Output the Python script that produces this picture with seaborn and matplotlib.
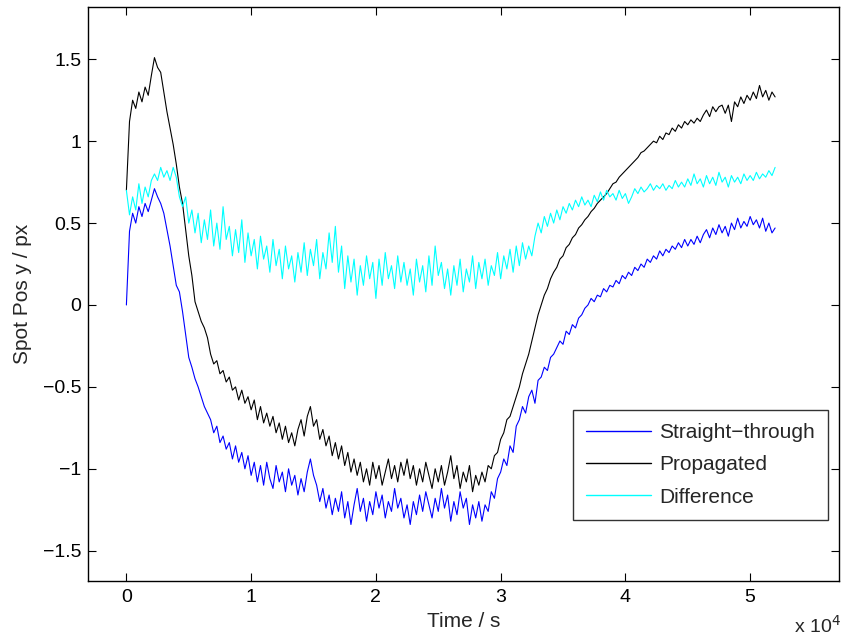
import numpy as np
import pandas as pd
import matplotlib
matplotlib.use("Agg")
import matplotlib.pyplot as plt
import seaborn as sns

# sample times (s), one value every 250 s from 0 to 52000 s
time_s = np.arange(0, 52001, 250)

straight_through = [
    0.00, 0.45, 0.56, 0.50, 0.60, 0.54, 0.62, 0.57, 0.64, 0.71,
    0.66, 0.62, 0.56, 0.46, 0.36, 0.24, 0.12, 0.08, -0.04, -0.18,
    -0.32, -0.38, -0.45, -0.50, -0.56, -0.62, -0.66, -0.70, -0.78, -0.74,
    -0.84, -0.80, -0.88, -0.84, -0.94, -0.86, -0.96, -0.90, -1.00, -0.92,
    -1.04, -0.96, -1.08, -0.98, -1.10, -0.96, -1.06, -1.12, -0.98, -1.08,
    -1.02, -1.14, -1.00, -1.10, -1.04, -1.16, -1.06, -1.14, -1.02, -0.94,
    -1.04, -1.10, -1.20, -1.12, -1.24, -1.16, -1.28, -1.18, -1.26, -1.14,
    -1.30, -1.20, -1.34, -1.22, -1.12, -1.26, -1.18, -1.32, -1.20, -1.28,
    -1.14, -1.24, -1.16, -1.30, -1.20, -1.26, -1.12, -1.24, -1.18, -1.30,
    -1.22, -1.34, -1.20, -1.28, -1.16, -1.26, -1.14, -1.22, -1.30, -1.18,
    -1.26, -1.12, -1.24, -1.16, -1.32, -1.20, -1.28, -1.14, -1.24, -1.18,
    -1.34, -1.22, -1.30, -1.20, -1.32, -1.22, -1.26, -1.14, -1.18, -1.06,
    -1.02, -0.94, -0.98, -0.86, -0.90, -0.74, -0.70, -0.62, -0.66, -0.56,
    -0.52, -0.60, -0.46, -0.44, -0.38, -0.40, -0.32, -0.30, -0.26, -0.22,
    -0.24, -0.16, -0.18, -0.12, -0.14, -0.08, -0.06, -0.02, 0.00, 0.04,
    0.02, 0.06, 0.05, 0.10, 0.08, 0.12, 0.11, 0.15, 0.13, 0.18,
    0.16, 0.20, 0.18, 0.23, 0.21, 0.25, 0.23, 0.28, 0.26, 0.30,
    0.28, 0.33, 0.30, 0.34, 0.32, 0.36, 0.34, 0.38, 0.35, 0.40,
    0.36, 0.40, 0.37, 0.42, 0.38, 0.43, 0.46, 0.41, 0.47, 0.43,
    0.49, 0.44, 0.48, 0.42, 0.50, 0.46, 0.53, 0.47, 0.51, 0.48,
    0.54, 0.49, 0.52, 0.47, 0.53, 0.45, 0.50, 0.44, 0.47,
]

propagated = [
    0.70, 1.12, 1.25, 1.20, 1.30, 1.24, 1.33, 1.28, 1.40, 1.51,
    1.45, 1.42, 1.30, 1.18, 1.08, 0.98, 0.86, 0.72, 0.62, 0.46,
    0.30, 0.18, 0.02, -0.04, -0.10, -0.14, -0.20, -0.30, -0.36, -0.34,
    -0.42, -0.40, -0.47, -0.44, -0.52, -0.50, -0.58, -0.52, -0.60, -0.56,
    -0.64, -0.58, -0.70, -0.62, -0.72, -0.66, -0.74, -0.68, -0.78, -0.72,
    -0.82, -0.74, -0.84, -0.78, -0.86, -0.76, -0.70, -0.80, -0.68, -0.62,
    -0.74, -0.70, -0.82, -0.76, -0.86, -0.80, -0.92, -0.84, -0.94, -0.86,
    -0.98, -0.90, -1.02, -0.94, -1.04, -0.96, -1.08, -1.00, -1.10, -0.96,
    -1.06, -0.98, -1.10, -1.02, -0.94, -1.06, -0.98, -1.08, -0.96, -1.04,
    -0.94, -1.06, -0.98, -1.10, -1.00, -1.08, -0.96, -1.04, -1.12, -1.00,
    -1.08, -0.98, -1.10, -1.02, -0.92, -1.06, -0.98, -1.12, -1.02, -1.08,
    -0.98, -1.14, -1.04, -1.10, -1.02, -1.08, -0.98, -1.00, -0.92, -0.90,
    -0.82, -0.78, -0.70, -0.68, -0.62, -0.56, -0.50, -0.42, -0.36, -0.30,
    -0.22, -0.14, -0.06, 0.00, 0.06, 0.10, 0.16, 0.20, 0.23, 0.28,
    0.30, 0.35, 0.37, 0.41, 0.43, 0.47, 0.49, 0.52, 0.54, 0.57,
    0.59, 0.62, 0.64, 0.66, 0.68, 0.71, 0.74, 0.75, 0.78, 0.80,
    0.82, 0.84, 0.86, 0.88, 0.90, 0.93, 0.94, 0.96, 0.98, 1.00,
    0.99, 1.03, 1.01, 1.05, 1.04, 1.08, 1.06, 1.10, 1.08, 1.12,
    1.10, 1.13, 1.11, 1.14, 1.12, 1.16, 1.19, 1.15, 1.21, 1.18,
    1.21, 1.22, 1.17, 1.22, 1.12, 1.24, 1.21, 1.27, 1.23, 1.28,
    1.25, 1.30, 1.26, 1.34, 1.27, 1.31, 1.25, 1.30, 1.27,
]

difference = [
    0.70, 0.55, 0.66, 0.58, 0.74, 0.62, 0.72, 0.66, 0.76, 0.80,
    0.76, 0.84, 0.78, 0.82, 0.76, 0.84, 0.78, 0.66, 0.60, 0.66,
    0.50, 0.58, 0.44, 0.56, 0.38, 0.52, 0.40, 0.58, 0.36, 0.50,
    0.34, 0.60, 0.40, 0.48, 0.30, 0.46, 0.32, 0.52, 0.26, 0.44,
    0.30, 0.40, 0.22, 0.42, 0.28, 0.36, 0.20, 0.40, 0.24, 0.34,
    0.16, 0.36, 0.22, 0.30, 0.14, 0.32, 0.20, 0.38, 0.18, 0.34,
    0.24, 0.40, 0.16, 0.32, 0.22, 0.44, 0.26, 0.48, 0.20, 0.36,
    0.10, 0.30, 0.14, 0.28, 0.06, 0.24, 0.12, 0.30, 0.16, 0.26,
    0.04, 0.28, 0.12, 0.32, 0.16, 0.24, 0.10, 0.30, 0.14, 0.26,
    0.12, 0.22, 0.06, 0.28, 0.14, 0.24, 0.08, 0.30, 0.12, 0.36,
    0.18, 0.26, 0.10, 0.22, 0.06, 0.24, 0.12, 0.28, 0.08, 0.22,
    0.14, 0.30, 0.10, 0.26, 0.16, 0.28, 0.12, 0.24, 0.18, 0.32,
    0.16, 0.30, 0.22, 0.34, 0.20, 0.36, 0.24, 0.38, 0.28, 0.36,
    0.30, 0.42, 0.50, 0.44, 0.54, 0.48, 0.56, 0.50, 0.58, 0.52,
    0.60, 0.56, 0.62, 0.58, 0.64, 0.60, 0.66, 0.61, 0.64, 0.60,
    0.67, 0.63, 0.69, 0.64, 0.70, 0.66, 0.68, 0.64, 0.70, 0.65,
    0.68, 0.62, 0.66, 0.71, 0.68, 0.72, 0.69, 0.71, 0.74, 0.70,
    0.73, 0.71, 0.74, 0.70, 0.73, 0.71, 0.76, 0.72, 0.75, 0.72,
    0.77, 0.73, 0.80, 0.74, 0.77, 0.72, 0.79, 0.74, 0.78, 0.73,
    0.81, 0.75, 0.78, 0.72, 0.79, 0.75, 0.78, 0.74, 0.80, 0.76,
    0.79, 0.76, 0.81, 0.77, 0.80, 0.78, 0.82, 0.79, 0.84,
]

series_names = ["Straight\u2212through", "Propagated", "Difference"]
series_colors = ["#0000ff", "#000000", "#00ffff"]
x_ticks = [0, 10000, 20000, 30000, 40000, 50000]
x_tick_labels = ["0", "1", "2", "3", "4", "5"]
y_ticks = [-1.5, -1, -0.5, 0, 0.5, 1, 1.5]
y_tick_labels = ["\u22121.5", "\u22121", "\u22120.5", "0", "0.5", "1", "1.5"]

df = pd.concat([
    pd.DataFrame({"time": time_s, "value": vals, "series": name})
    for name, vals in zip(series_names, [straight_through, propagated, difference])
], ignore_index=True)

sns.set_style("ticks")
plt.rcParams["font.family"] = ["Liberation Sans", "DejaVu Sans"]

fig = plt.figure(figsize=(8.41, 6.37), dpi=100)
ax = fig.add_axes([0.1043, 0.0884, 0.8930, 0.9001])

sns.lineplot(data=df, x="time", y="value", hue="series", hue_order=series_names,
             palette=dict(zip(series_names, series_colors)), estimator=None,
             linewidth=0.8, legend=False, ax=ax, sort=False)

ax.set_xlim(-3100, 57100)
ax.set_ylim(-1.683, 1.817)
ax.set_xticks(x_ticks)
ax.set_xticklabels(x_tick_labels)
ax.set_yticks(y_ticks)
ax.set_yticklabels(y_tick_labels)
ax.tick_params(direction="in", length=6, width=0.8, top=True, right=True,
               labelsize=14, colors="black")
ax.tick_params(axis="y", pad=4.5)
ax.tick_params(axis="x", pad=6)
for s in ax.spines.values():
    s.set_visible(True)
    s.set_linewidth(1.0)
    s.set_color("black")

ax.set_xlabel("Time / s", fontsize=15, labelpad=4)
ax.set_ylabel("Spot Pos y / px", fontsize=15, labelpad=8)
fig.text(0.944, 0.0, "x 10$^{4}$", fontsize=14, ha="left", va="bottom")

handles = ax.get_lines()[:3]
leg = ax.legend(handles, series_names, loc="lower right",
                bbox_to_anchor=(0.986, 0.106), frameon=True, fancybox=False,
                edgecolor="black", fontsize=15, handlelength=3.1,
                labelspacing=0.64, borderpad=0.63, handletextpad=0.4,
                borderaxespad=0)
leg.get_frame().set_linewidth(1.0)
for lh in leg.get_lines():
    lh.set_linewidth(1.0)

fig.savefig("out.png", dpi=100)
